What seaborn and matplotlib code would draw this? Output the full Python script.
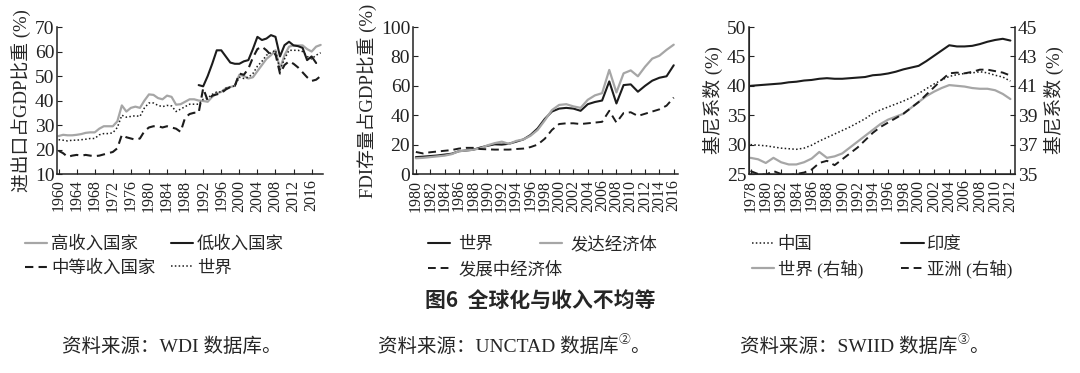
import numpy as np
import pandas as pd
import seaborn as sns
import matplotlib.pyplot as plt
from matplotlib.text import Annotation

sns.set_style('ticks')
plt.rcParams['font.family'] = ['Liberation Serif', 'Noto Sans CJK SC']
plt.rcParams['axes.unicode_minus'] = False

# panel 1: trade share of GDP (%)
years1 = list(range(1960, 2019))
high_income = [25.5, 26.0, 25.8, 25.8, 26.0, 26.3, 26.8, 27.0, 27.0, 28.5,
               29.5, 29.5, 29.5, 31.5, 38.0, 35.5, 37.0, 37.5, 37.0, 40.0,
               42.5, 42.3, 41.0, 40.5, 42.0, 41.5, 38.3, 38.5, 39.5, 40.5,
               40.5, 40.0, 39.8, 39.5, 41.5, 43.0, 43.5, 45.0, 45.5, 46.0,
               50.5, 50.0, 49.0, 49.5, 52.0, 54.5, 57.0, 58.5, 60.5, 53.0,
               58.5, 62.0, 62.5, 62.5, 62.5, 61.0, 60.0, 62.0, 62.7]
world_trade = [24.0, 23.8, 23.5, 23.8, 23.8, 24.0, 24.2, 24.5, 24.5, 26.0,
               26.5, 26.5, 26.8, 29.0, 34.0, 33.2, 33.5, 33.8, 33.5, 37.0,
               39.0, 39.0, 38.0, 37.5, 38.0, 37.8, 35.5, 36.5, 37.5, 38.5,
               38.5, 38.5, 40.5, 41.0, 42.5, 43.5, 43.5, 45.0, 45.5, 46.0,
               49.5, 49.0, 49.5, 51.0, 54.0, 56.0, 58.5, 59.5, 60.5, 52.5,
               57.0, 60.5, 60.5, 60.5, 60.0, 58.0, 57.0, 58.5, 59.5]
middle_income = [19.5, 18.5, 17.0, 17.5, 17.8, 17.5, 17.8, 17.5, 17.3, 17.5,
                 18.0, 18.5, 19.0, 20.5, 26.0, 25.0, 24.5, 24.0, 24.5, 27.5,
                 29.0, 29.5, 29.5, 29.0, 29.5, 29.0, 28.5, 27.2, 33.0, 34.5,
                 35.0, 35.0, 45.0, 40.0, 42.0, 42.5, 43.0, 44.5, 45.5, 46.0,
                 51.0, 50.5, 53.0, 57.5, 61.0, 62.0, 60.5, 58.5, 59.0, 51.0,
                 54.5, 56.0, 55.0, 53.5, 51.5, 49.5, 48.0, 48.5, 50.0]
years_low = list(range(1991, 2018))
low_income = [46.3, 45.8, 50.0, 55.0, 60.5, 60.5, 58.0, 55.5, 55.0,
              55.0, 56.0, 56.5, 61.0, 66.0, 64.7, 65.3, 66.7, 66.0, 58.0,
              62.6, 64.0, 62.5, 62.2, 61.5, 56.5, 58.0, 55.3]

# panel 2: FDI stock share of GDP (%)
years2 = list(range(1980, 2017))
fdi_world = [11.5, 11.8, 12.2, 12.6, 13.2, 13.8, 15.5, 16.0, 16.5, 18.0,
             19.2, 20.2, 20.0, 20.6, 22.0, 23.5, 26.5, 31.0, 37.5, 42.5,
             44.5, 45.0, 44.5, 43.0, 47.5, 49.0, 50.0, 63.0, 48.0, 60.5,
             61.0, 56.0, 60.0, 63.5, 65.5, 66.5, 74.0]
fdi_developed = [10.7, 11.0, 11.5, 12.0, 12.5, 13.5, 15.5, 16.0, 16.5, 17.5,
                 19.5, 21.0, 22.0, 20.5, 22.5, 23.5, 26.0, 30.0, 36.5, 43.5,
                 47.0, 47.5, 46.0, 45.0, 50.5, 53.5, 55.0, 70.8, 55.5, 68.5,
                 70.5, 66.5, 73.0, 78.5, 80.5, 84.5, 88.0]
fdi_developing = [15.0, 14.0, 14.8, 15.3, 15.8, 16.3, 17.3, 17.8, 17.8, 17.0,
                  16.8, 16.6, 16.6, 16.6, 17.0, 17.3, 18.3, 20.0, 24.0, 30.0,
                  34.0, 34.5, 34.5, 34.0, 34.5, 35.0, 35.5, 43.0, 35.0, 41.5,
                  42.0, 39.5, 41.0, 42.5, 44.0, 46.5, 52.0]

# panel 3: Gini coefficient (%)
years3 = list(range(1978, 2013))
gini_china = [30.0, 29.9, 29.8, 29.6, 29.4, 29.3, 29.2, 29.4, 29.9, 30.6,
              31.2, 31.8, 32.4, 33.0, 33.7, 34.4, 35.3, 35.9, 36.4, 36.9,
              37.4, 38.0, 38.7, 39.5, 40.3, 41.0, 41.6, 41.9, 42.1, 42.2,
              42.4, 42.2, 41.8, 41.5, 40.8]
gini_india = [40.0, 40.1, 40.2, 40.3, 40.4, 40.6, 40.7, 40.9, 41.0, 41.2,
              41.3, 41.2, 41.2, 41.3, 41.4, 41.5, 41.8, 41.9, 42.1, 42.4,
              42.8, 43.1, 43.4, 44.2, 45.1, 46.0, 46.9, 46.7, 46.7, 46.8,
              47.1, 47.5, 47.8, 48.0, 47.7]
gini_world = [36.1, 36.0, 35.75, 36.1, 35.8, 35.65, 35.65, 35.8, 36.05, 36.5,
              36.1, 36.2, 36.4, 36.8, 37.2, 37.6, 38.0, 38.4, 38.7, 38.9,
              39.1, 39.5, 39.9, 40.3, 40.6, 40.85, 41.05, 41.0, 40.95, 40.85,
              40.8, 40.8, 40.7, 40.45, 40.1]
gini_asia = [35.2, 35.0, 34.95, 35.2, 35.0, 34.9, 35.0, 35.1, 35.3, 35.75,
             35.9, 35.6, 36.0, 36.4, 36.8, 37.3, 37.8, 38.2, 38.5, 38.8,
             39.1, 39.5, 39.9, 40.4, 40.9, 41.4, 41.85, 41.9, 41.85, 41.95,
             42.1, 42.1, 42.0, 41.9, 41.7]

BLACK = '#1c1c1c'
GRAY = '#a6a6a6'

fig = plt.figure(figsize=(10.8, 3.73), dpi=100)
ax1 = fig.add_axes([0.053, 0.5335, 0.246, 0.394])
ax2 = fig.add_axes([0.3824, 0.5335, 0.2454, 0.394])
ax3 = fig.add_axes([0.6935, 0.5335, 0.2463, 0.394])
ax3r = ax3.twinx()

# panel 1
sns.lineplot(x=years1, y=high_income, ax=ax1, color=GRAY, lw=1.6, legend=False)
sns.lineplot(x=years_low, y=low_income, ax=ax1, color=BLACK, lw=1.5, legend=False)
sns.lineplot(x=years1, y=middle_income, ax=ax1, color=BLACK, lw=1.5, linestyle=(0, (4, 2.5)), legend=False)
sns.lineplot(x=years1, y=world_trade, ax=ax1, color=BLACK, lw=1.1, linestyle=(0, (1, 1.5)), legend=False)
h_high, h_low, h_mid, h_world = ax1.get_lines()

# panel 2
sns.lineplot(x=years2, y=fdi_world, ax=ax2, color=BLACK, lw=1.5, legend=False)
sns.lineplot(x=years2, y=fdi_developed, ax=ax2, color=GRAY, lw=1.6, legend=False)
sns.lineplot(x=years2, y=fdi_developing, ax=ax2, color=BLACK, lw=1.4, linestyle=(0, (4, 2.5)), legend=False)
h_fw, h_fdev, h_fdvg = ax2.get_lines()

# panel 3
sns.lineplot(x=years3, y=gini_china, ax=ax3, color=BLACK, lw=1.1, linestyle=(0, (1, 1.5)), legend=False)
sns.lineplot(x=years3, y=gini_india, ax=ax3, color=BLACK, lw=1.5, legend=False)
sns.lineplot(x=years3, y=gini_world, ax=ax3r, color=GRAY, lw=1.6, legend=False)
sns.lineplot(x=years3, y=gini_asia, ax=ax3r, color=BLACK, lw=1.4, linestyle=(0, (4, 2.5)), legend=False)
h_cn, h_in = ax3.get_lines()
h_gw, h_as = ax3r.get_lines()

TICK_FS = 14
YEAR_FS = 11.5

def style(ax, xlim, xticks, ylim, yticks):
    ax.set_xlim(*xlim)
    ax.set_ylim(*ylim)
    ax.set_xticks(xticks)
    ax.set_xticklabels([str(t) for t in xticks], rotation=90, fontsize=YEAR_FS)
    ax.set_yticks(yticks)
    ax.set_yticklabels([str(t) for t in yticks], fontsize=TICK_FS)
    ax.tick_params(direction='in', length=3.5, width=0.8, pad=2, colors='#222222')
    ax.tick_params(axis='x', pad=4)
    for s in ['top', 'right']:
        ax.spines[s].set_visible(False)
    for s in ['left', 'bottom']:
        ax.spines[s].set_linewidth(1.1)
        ax.spines[s].set_color('#222222')
    ax.set_xlabel('')

style(ax1, (1959.7, 2018.5), list(range(1960, 2017, 4)), (10, 70), list(range(10, 71, 10)))
style(ax2, (1979.6, 2016.6), list(range(1980, 2017, 2)), (0, 100), list(range(0, 101, 20)))
style(ax3, (1977.8, 2012.6), list(range(1978, 2013, 2)), (25, 50), list(range(25, 51, 5)))

ax3r.set_ylim(35, 45)
ax3r.set_yticks(list(range(35, 46, 2)))
ax3r.set_yticklabels([str(t) for t in range(35, 46, 2)], fontsize=TICK_FS)
ax3r.tick_params(direction='in', length=3.5, width=0.8, pad=2, colors='#222222')
ax3r.spines['top'].set_visible(False)
ax3r.spines['right'].set_linewidth(1.1)
ax3r.spines['right'].set_color('#222222')

ax1.set_ylabel('进出口占GDP比重 (%)', fontsize=13.5, labelpad=3)
ax2.set_ylabel('FDI存量占GDP比重 (%)', fontsize=13.5, labelpad=3)
ax3.set_ylabel('基尼系数 (%)', fontsize=13.5, labelpad=3)
ax3r.set_ylabel('基尼系数 (%)', fontsize=13.5, labelpad=5)

leg_kw = dict(loc='upper left', frameon=False, fontsize=12.5, borderpad=0,
              borderaxespad=0, labelspacing=0.42, handlelength=1.3)

fig.legend([h_high, h_mid, h_low, h_world], ['高收入国家', '中等收入国家', '低收入国家', '世界'],
           ncol=2, bbox_to_anchor=(0.023, 0.366), handletextpad=0.2, columnspacing=0.9, **leg_kw)

fig.legend([h_fw, h_fdev], ['世界', '发达经济体'], ncol=2,
           bbox_to_anchor=(0.396, 0.366), handletextpad=0.45, columnspacing=2.7, **leg_kw)
fig.legend([h_fdvg], ['发展中经济体'], ncol=1,
           bbox_to_anchor=(0.396, 0.298), handletextpad=0.45, **leg_kw)

fig.legend([h_cn, h_gw, h_in, h_as], ['中国', '世界 (右轴)', '印度', '亚洲 (右轴)'],
           ncol=2, bbox_to_anchor=(0.696, 0.366), handletextpad=0.2, columnspacing=2.2, **leg_kw)

fig.text(0.5, 0.194, '图6  全球化与收入不均等', ha='center', va='center', fontsize=15,
         fontweight='bold', family=['Noto Sans CJK SC'])

def source(x, text, mark):
    t = fig.text(x, 0.07, text, fontsize=14, va='center')
    if mark:
        # small circled note number, then the closing full stop
        sup = Annotation(mark, xy=(1, 0.55), xycoords=t, fontsize=8.5, va='bottom', ha='left')
        fig.add_artist(sup)
        end = Annotation('。', xy=(1, 0), xycoords=t, xytext=(8.5, 0), textcoords='offset points',
                         fontsize=14, va='bottom', ha='left')
        fig.add_artist(end)

source(0.057, '资料来源：WDI 数据库。', None)
source(0.35, '资料来源：UNCTAD 数据库', '②')
source(0.685, '资料来源：SWIID 数据库', '③')

fig.savefig('out.png', dpi=100)
